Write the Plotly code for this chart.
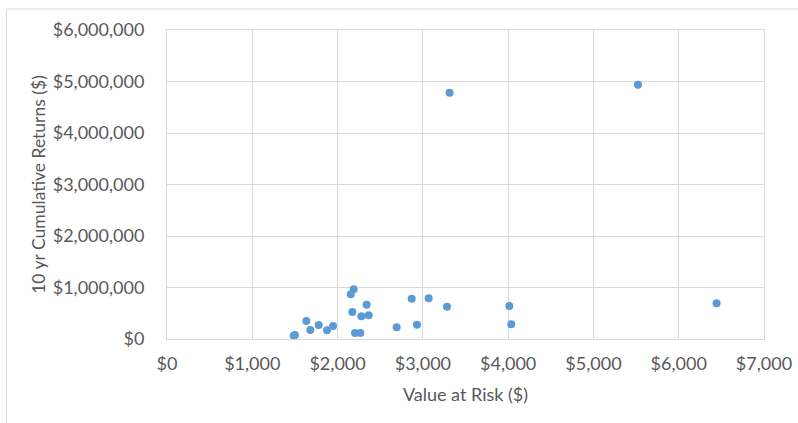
import plotly.graph_objects as go

# Value at Risk ($) vs 10 yr cumulative returns ($)
value_at_risk = [1485, 1500, 1634, 1681, 1778, 1876, 1946, 2154, 2189, 2173,
                 2204, 2267, 2279, 2365, 2341, 2693, 2869, 2931, 3068, 3283,
                 3314, 4014, 4037, 5522, 6444]
cum_returns = [64000, 80000, 350000, 175000, 272000, 169000, 252000, 868000, 965000, 524000,
               117000, 117000, 440000, 460000, 666000, 227000, 783000, 278000, 790000, 627000,
               4783000, 641000, 285000, 4938000, 693000]

x_ticks = [0, 1000, 2000, 3000, 4000, 5000, 6000, 7000]
y_ticks = [0, 1000000, 2000000, 3000000, 4000000, 5000000, 6000000]
x_labels = ['$' + format(v, ',') for v in x_ticks]
y_labels = ['$' + format(v, ',') for v in y_ticks]

grey = '#595959'
grid = '#d9d9d9'
font_family = 'Lato, Liberation Sans, sans-serif'

fig = go.Figure()
fig.add_trace(go.Scatter(x=value_at_risk, y=cum_returns, mode='markers',
                         marker=dict(color='#5b9bd5', size=8),
                         showlegend=False))

fig.update_layout(
    width=798, height=423,
    margin=dict(l=167, r=34, t=30, b=84),
    paper_bgcolor='white', plot_bgcolor='white',
    font=dict(family=font_family, size=18, color=grey),
)

fig.update_xaxes(range=[0, 7000], tickvals=x_ticks, ticktext=x_labels,
                 showgrid=True, gridcolor=grid, gridwidth=1,
                 showline=True, linecolor=grid, mirror=True, zeroline=False,
                 ticklabelstandoff=8, automargin=False,
                 title=dict(text='Value at Risk ($)', standoff=15, font=dict(size=18)))
fig.update_yaxes(range=[0, 6000000], tickvals=y_ticks, ticktext=y_labels,
                 showgrid=True, gridcolor=grid, gridwidth=1,
                 showline=True, linecolor=grid, mirror=True, zeroline=False,
                 ticklabelstandoff=18, automargin=False,
                 title=dict(text='10 yr Cumulative Returns ($)', standoff=2, font=dict(size=17.5)))

# outer chart border (only top and left visible in the picture)
fig.add_shape(type='line', xref='paper', yref='paper',
              x0=-0.269, x1=1.2, y0=1.068, y1=1.068, line=dict(color=grid, width=1))
fig.add_shape(type='line', xref='paper', yref='paper',
              x0=-0.269, x1=-0.269, y0=1.068, y1=-0.5, line=dict(color=grid, width=1))

# the page's default 8px body margin would shift the whole chart
fig.write_html("out.html", config={'displayModeBar': False},
               post_script="document.body.style.margin='0px';")
